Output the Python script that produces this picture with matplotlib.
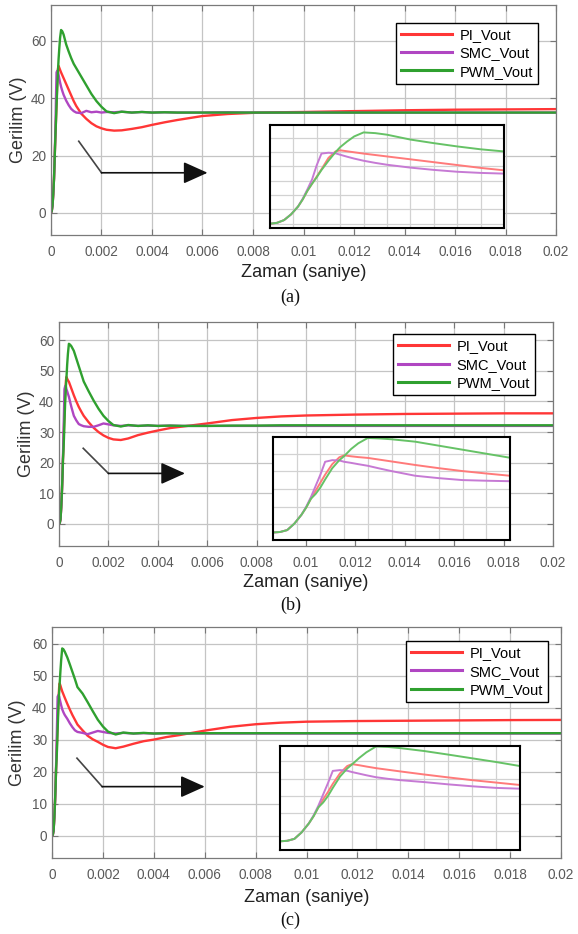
import matplotlib.pyplot as plt
import numpy as np

# shared time base (ms)
t_ms = [0, 0.03, 0.06, 0.09, 0.12, 0.14, 0.16, 0.18, 0.2, 0.22, 0.25, 0.28, 0.3,
        0.33, 0.36, 0.4, 0.45, 0.5,
        0.6, 0.7, 0.8, 0.9, 1.0,
        1.2, 1.4, 1.6, 1.8, 2.0,
        2.2, 2.5, 2.8, 3.2, 3.6,
        4.0, 4.5, 5.0,
        6.0, 7.0, 8.0, 9.0, 10,
        12, 14, 16, 18, 20]

# (a)
pi_a = [0, 0.6, 2.5, 6.5, 12, 17, 23, 28, 33, 38, 46, 50.5, 51.3,
        50.6, 49.9, 49.0, 48.0, 47.0,
        45.0, 43.0, 41.0, 39.0, 37.3,
        34.6, 32.8, 31.3, 30.2, 29.5,
        29.0, 28.7, 28.8, 29.3, 29.9,
        30.7, 31.6, 32.4,
        33.8, 34.5, 34.9, 35.1, 35.2,
        35.5, 35.8, 36.0, 36.1, 36.2]
smc_a = [0, 0.6, 2.5, 6.5, 12, 17.5, 24, 31, 41, 49, 49.6, 49.2, 48.2,
         46.8, 45.5, 44.0, 42.5, 41.2,
         39.2, 37.6, 36.3, 35.5, 35.0,
         34.8, 35.6, 35.1, 35.3, 35.0,
         35.2, 35.1, 35.3, 35.0, 35.2,
         35.0, 35.1, 35.0,
         35.0, 35.1, 35.0, 35.0, 35.0,
         35.0, 35.0, 35.0, 35.0, 35.0]
pwm_a = [0, 0.6, 2.5, 6.5, 12, 17, 23, 28, 32.5, 37.5, 44, 50, 53.5,
         57.5, 61.0, 63.8, 63.3, 62.2,
         58.8, 56.3, 54.0, 52.0, 50.5,
         47.5, 44.5, 41.5, 39.0, 37.0,
         35.4, 34.8, 35.3, 35.0, 35.2,
         35.0, 35.1, 35.0,
         35.0, 35.0, 35.0, 35.0, 35.0,
         35.0, 35.0, 35.0, 35.0, 35.0]

# (b)
pi_b = [0, 0.3, 1.5, 5.5, 11, 15.5, 21, 26, 31, 36, 42.5, 46.8, 48.0,
        47.4, 46.9, 46.4, 45.3, 44.2,
        42.0, 40.0, 38.2, 36.7, 35.3,
        33.2, 31.4, 30.0, 28.9, 28.1,
        27.6, 27.4, 27.9, 29.0, 29.8,
        30.5, 31.3, 31.8,
        32.8, 33.9, 34.6, 35.1, 35.4,
        35.7, 35.9, 36.0, 36.1, 36.1]
smc_b = [0, 0.3, 1.5, 5.5, 11, 16, 22, 29, 36, 44, 45.0, 44.8, 44.0,
         43.3, 42.5, 41.5, 39.8, 38.2,
         35.3, 33.8, 32.6, 32.2, 31.9,
         31.7, 31.7, 32.2, 32.8, 32.5,
         32.2, 32.0, 32.2, 32.0, 32.1,
         32.0, 32.1, 32.0,
         32.0, 32.0, 32.0, 32.0, 32.0,
         32.0, 32.0, 32.0, 32.0, 32.0]
pwm_b = [0, 0.3, 1.5, 5.5, 11, 15.5, 21, 24, 28, 33, 40, 45, 47.5,
         52.0, 55.5, 58.8, 58.5, 58.0,
         56.5, 54.0, 51.5, 49.0, 46.5,
         43.3, 40.3, 37.6, 35.3, 33.6,
         32.3, 31.8, 32.3, 32.0, 32.2,
         32.0, 32.1, 32.0,
         32.0, 32.1, 32.1, 32.2, 32.2,
         32.2, 32.2, 32.2, 32.2, 32.2]

# (c)
pi_c = [0, 0.3, 1.5, 5.5, 11, 15.5, 21, 26, 30.5, 35.5, 42, 46.5, 47.7,
        47.0, 46.2, 45.2, 44.2, 43.2,
        41.3, 39.5, 37.8, 36.3, 34.8,
        33.0, 31.3, 30.2, 29.4, 28.5,
        27.8, 27.4, 27.9, 28.8, 29.6,
        30.1, 30.9, 31.5,
        32.9, 34.1, 34.9, 35.4, 35.7,
        35.9, 36.0, 36.1, 36.2, 36.25]
smc_c = [0, 0.3, 1.5, 5.5, 11, 16, 22, 29, 36, 43.5, 44.0, 43.6, 42.8,
         41.8, 40.8, 39.6, 38.6, 37.8,
         36.6, 35.2, 34.0, 33.0, 32.5,
         32.2, 31.8, 32.3, 32.8, 32.5,
         32.2, 32.0, 32.2, 32.0, 32.1,
         32.0, 32.1, 32.0,
         32.0, 32.0, 32.0, 32.0, 32.0,
         32.0, 32.0, 32.0, 32.0, 32.0]
pwm_c = [0, 0.3, 1.5, 5.5, 11, 15.5, 21, 24, 28, 33, 40, 45, 47.5,
         51.5, 55.0, 58.6, 58.3, 57.6,
         55.8, 53.6, 51.3, 49.0, 46.5,
         44.5, 41.8, 39.0, 36.3, 34.2,
         32.6, 31.7, 32.3, 32.0, 32.2,
         32.0, 32.1, 32.0,
         32.1, 32.1, 32.1, 32.1, 32.1,
         32.1, 32.1, 32.1, 32.1, 32.1]

series_names = ["PI_Vout", "SMC_Vout", "PWM_Vout"]
panel_labels = ["(a)", "(b)", "(c)"]
xtick_vals = [0, 0.002, 0.004, 0.006, 0.008, 0.01, 0.012, 0.014, 0.016, 0.018, 0.02]
xtick_labels = ["0", "0.002", "0.004", "0.006", "0.008", "0.01", "0.012", "0.014",
                "0.016", "0.018", "0.02"]

colors = ["#ff3636", "#b046c2", "#2fa02f"]
inset_colors = ["#ff7a7a", "#c67ad4", "#66c266"]

t = np.array(t_ms) / 1000.0
data = [(pi_a, smc_a, pwm_a), (pi_b, smc_b, pwm_b), (pi_c, smc_c, pwm_c)]

# layout (figure fractions)
main_rects = [[0.0882, 0.7484, 0.8738, 0.2462],
              [0.1021, 0.4154, 0.8546, 0.2398],
              [0.0900, 0.0814, 0.8806, 0.2473]]
inset_rects = [[0.4671, 0.7559, 0.4048, 0.1103],
               [0.4723, 0.4218, 0.4101, 0.1103],
               [0.4844, 0.0899, 0.4153, 0.1114]]
main_ylims = [(-7.7, 72.5), (-7.2, 65.9), (-6.9, 65.3)]
main_yticks = [[0, 20, 40, 60], list(range(0, 61, 10)), list(range(0, 61, 10))]
inset_ylims = [(-3, 69), (-4.7, 59.4), (-5.4, 58.9)]
inset_ygrid = [[0, 10, 20, 30, 40, 50, 60], [5, 16, 27, 38, 49], [6.5, 17.3, 28, 38.8, 49.6]]
legend_anchor = [(0.964, 0.923), (0.964, 0.946), (0.974, 0.939)]
arrows = [[(0.0011, 25.0), (0.0020, 14.0), (0.0062, 14.0)],
          [(0.00098, 24.7), (0.0020, 16.5), (0.0051, 16.5)],
          [(0.00098, 24.3), (0.00197, 15.4), (0.0060, 15.4)]]
ylabel_x = [-0.065, -0.065, -0.067]
xlabel_y = [-0.161, -0.165, -0.169]
letter_y = [0.682, 0.352, 0.015]

plt.rcParams['font.family'] = ['Liberation Sans', 'DejaVu Sans']

fig = plt.figure(figsize=(5.78, 9.34), dpi=100)

for i in range(3):
    ax = fig.add_axes(main_rects[i])
    for k in range(3):
        ax.plot(t, data[i][k], color=colors[k], lw=1.7, label=series_names[k])
    ax.set_xlim(0, 0.02)
    ax.set_ylim(*main_ylims[i])
    ax.set_xticks(xtick_vals)
    ax.set_xticklabels(xtick_labels)
    ax.set_yticks(main_yticks[i])
    ax.grid(True, color="#c4c4c4", lw=0.9)
    ax.set_axisbelow(True)
    ax.tick_params(direction="in", top=True, right=True, length=4, width=0.8,
                   colors="#777777", labelcolor="#5a5a5a", labelsize=9.8)
    ax.tick_params(axis="x", pad=7)
    for s in ax.spines.values():
        s.set_color("#7a7a7a")
        s.set_linewidth(0.9)
    ax.set_xlabel("Zaman (saniye)", fontsize=13, color="#222222", va="center")
    ax.set_ylabel("Gerilim (V)", fontsize=13, color="#333333", va="center")
    ax.xaxis.set_label_coords(0.5, xlabel_y[i])
    ax.yaxis.set_label_coords(ylabel_x[i], 0.5)

    leg = ax.legend(loc="upper right", bbox_to_anchor=legend_anchor[i], borderaxespad=0,
                    fontsize=10.5, fancybox=False, framealpha=1, edgecolor="black",
                    handlelength=3.5, handletextpad=0.5, labelspacing=0.3, borderpad=0.35)
    leg.get_frame().set_linewidth(1.0)
    for ln in leg.get_lines():
        ln.set_linewidth(2.2)

    # arrow pointing at the zoomed inset
    p0, p1, p2 = arrows[i]
    ax.plot([p0[0], p1[0]], [p0[1], p1[1]], color="#444444", lw=1.2)
    ax.annotate("", xy=p2, xytext=p1,
                arrowprops=dict(arrowstyle="-|>,head_length=1.0,head_width=0.45",
                                color="#111111", lw=1.2, mutation_scale=15,
                                shrinkA=0, shrinkB=0))

    # inset: zoom on the start-up transient
    axin = fig.add_axes(inset_rects[i])
    axin.set_facecolor("white")
    for k in range(3):
        axin.plot(t, data[i][k], color=inset_colors[k], lw=1.4)
    axin.set_xlim(0, 0.001)
    axin.set_ylim(*inset_ylims[i])
    axin.set_xticks(np.arange(0.0001, 0.001, 0.0001))
    axin.set_yticks(inset_ygrid[i])
    axin.grid(True, color="#d2d2d2", lw=0.9)
    axin.set_axisbelow(True)
    axin.tick_params(length=0, labelbottom=False, labelleft=False)
    for s in axin.spines.values():
        s.set_color("black")
        s.set_linewidth(1.5)

    fig.text(0.503, letter_y[i], panel_labels[i], ha="center", va="center",
             fontsize=13, family="Liberation Serif", color="#111111")

fig.savefig("out.png", dpi=100)
